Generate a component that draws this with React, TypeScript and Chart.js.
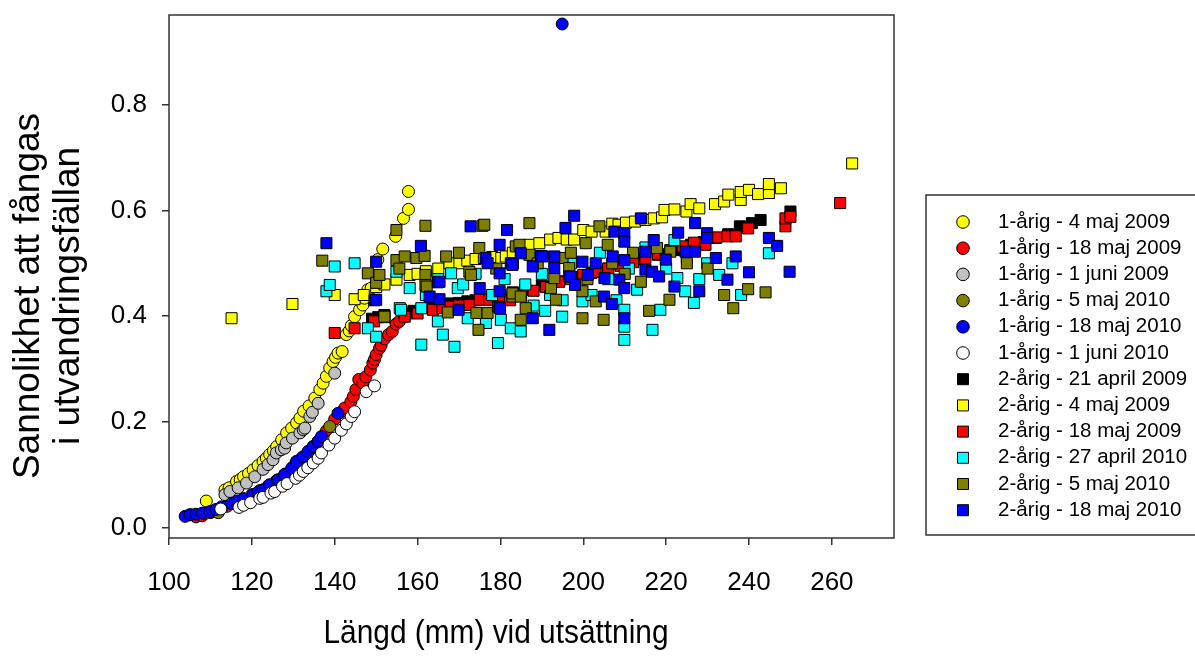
import React, { useEffect, useRef } from "react";
import { Chart, registerables } from "chart.js";

Chart.register(...registerables);

type P = [number, number];

const FONT = '"Liberation Sans", Arial, sans-serif';

const xTicks = [100, 120, 140, 160, 180, 200, 220, 240, 260];
const yTicks = [0, 0.2, 0.4, 0.6, 0.8];

const xTitle = "Längd (mm) vid utsättning";
const yTitle = ["Sannolikhet att fångas", "i utvandringsfällan"];

const seriesNames = [
  "1-årig - 4 maj 2009",
  "1-årig - 18 maj 2009",
  "1-årig - 1 juni 2009",
  "1-årig - 5 maj 2010",
  "1-årig - 18 maj 2010",
  "1-årig - 1 juni 2010",
  "2-årig - 21 april 2009",
  "2-årig - 4 maj 2009",
  "2-årig - 18 maj 2009",
  "2-årig - 27 april 2010",
  "2-årig - 5 maj 2010",
  "2-årig - 18 maj 2010",
];

const seriesColors = [
  "#ffff00", "#ff0000", "#c0c0c0", "#808000", "#0000ff", "#ffffff",
  "#000000", "#ffff00", "#ff0000", "#00ffff", "#808000", "#0000ff",
];

const seriesShapes = [
  "circle", "circle", "circle", "circle", "circle", "circle",
  "rect", "rect", "rect", "rect", "rect", "rect",
];

const c1_4maj2009: P[] = [
  [109, 0.05], [113.5, 0.071], [114.5, 0.075], [116.3, 0.087], [117.2, 0.091], [118, 0.096],
  [119.2, 0.102], [120.3, 0.109], [121.5, 0.117], [122.7, 0.125], [123.5, 0.131], [124.3, 0.138],
  [125.2, 0.145], [126, 0.153], [127.2, 0.166], [128.4, 0.179], [129.6, 0.188], [130.8, 0.198],
  [131.6, 0.207], [132.5, 0.22], [133.8, 0.23], [135.2, 0.245], [136.4, 0.261], [137.2, 0.273],
  [138, 0.286], [138.8, 0.302], [139.6, 0.314], [140.2, 0.322], [140.8, 0.33], [141.8, 0.333],
  [142.8, 0.365], [143.5, 0.372], [144, 0.382], [144.8, 0.399], [146, 0.412], [146.8, 0.421],
  [147.2, 0.434], [148, 0.45], [148.8, 0.453], [150.4, 0.507], [151.6, 0.527], [154.7, 0.551],
  [156.6, 0.585], [157.8, 0.602], [157.8, 0.636],
];

const c1_18maj2009: P[] = [
  [106.5, 0.02], [108, 0.022], [110, 0.028], [112, 0.034], [114, 0.04], [116, 0.047], [118, 0.054],
  [120, 0.062], [122, 0.07], [124, 0.079], [126, 0.089], [128, 0.101], [130, 0.115], [132, 0.131],
  [134, 0.146], [136, 0.163], [138, 0.183], [140, 0.205], [141.5, 0.218], [142.4, 0.226],
  [143.9, 0.238], [144.5, 0.248], [145.1, 0.261], [145.8, 0.28], [146.8, 0.273], [147.5, 0.285],
  [148.6, 0.298], [149.2, 0.311], [149.6, 0.318], [150, 0.327], [150.8, 0.339], [151.2, 0.345],
  [152, 0.357], [153, 0.365], [153.9, 0.371], [154.8, 0.385], [155.6, 0.39], [156.9, 0.399], [158, 0.405],
];

const c1_1juni2009: P[] = [
  [113.5, 0.062], [114.7, 0.068], [116.7, 0.075], [118.7, 0.084], [120.7, 0.096], [122.7, 0.11],
  [123.9, 0.119], [125.1, 0.128], [125.9, 0.141], [127.1, 0.147], [127.9, 0.15], [128.3, 0.16],
  [129.8, 0.169], [131.6, 0.179], [132.4, 0.185], [132.8, 0.188], [134, 0.21], [134.6, 0.218],
  [136, 0.235], [140, 0.292],
];

const c1_5maj2010: P[] = [
  [105.1, 0.024], [108.7, 0.027], [111.9, 0.028], [115.1, 0.045], [118, 0.054], [122.7, 0.071],
  [126.3, 0.09], [130.8, 0.125], [134.8, 0.153], [138.8, 0.191],
];

const c1_18maj2010: P[] = [
  [103.9, 0.021], [105.1, 0.024], [106.5, 0.025], [108, 0.027], [109.9, 0.03], [111.3, 0.034],
  [112.7, 0.039], [115.1, 0.045], [116.5, 0.05], [118, 0.054], [120.3, 0.062], [121.5, 0.067],
  [122.7, 0.071], [124.3, 0.081], [126.3, 0.09], [127.9, 0.1], [129.6, 0.112], [130.8, 0.125],
  [132.4, 0.134], [133.6, 0.144], [134.8, 0.153], [136, 0.163], [136.8, 0.172], [140.8, 0.216],
  [194.9, 0.953],
];

const c1_1juni2010: P[] = [
  [112.5, 0.035], [116.9, 0.038], [118, 0.042], [119.7, 0.047], [121.9, 0.055], [122.7, 0.057],
  [124.6, 0.065], [125.5, 0.068], [127.4, 0.078], [128.5, 0.083], [130.6, 0.093], [131.5, 0.099],
  [132.4, 0.106], [133.5, 0.113], [134.8, 0.122], [136, 0.131], [136.8, 0.141], [138.6, 0.156],
  [140, 0.169], [141.6, 0.184], [142.8, 0.196], [144, 0.21], [144.8, 0.219], [147.6, 0.257], [149.6, 0.268],
];

const s2_21april2009: P[] = [
  [149, 0.395], [150.5, 0.398], [152, 0.402], [157, 0.405], [159, 0.41], [163, 0.415], [166, 0.42],
  [168, 0.424], [170, 0.425], [172, 0.428], [174, 0.43], [176, 0.432], [178, 0.437], [180, 0.44],
  [183, 0.445], [186, 0.45], [190, 0.458], [194, 0.466], [198, 0.474], [202, 0.482], [206, 0.49],
  [210, 0.498], [214, 0.507], [218, 0.516], [222, 0.525], [226, 0.535], [229, 0.54], [232, 0.548],
  [235, 0.555], [237.8, 0.57], [240.7, 0.576], [242.8, 0.582], [250, 0.598],
];

const s2_4maj2009: P[] = [
  [115.1, 0.396], [129.8, 0.423], [140, 0.44], [144.8, 0.432], [147, 0.44], [150, 0.455], [152, 0.46],
  [154.9, 0.469], [158.1, 0.478], [160, 0.48], [162, 0.485], [165, 0.49], [167.7, 0.5], [170.1, 0.5],
  [172, 0.505], [174, 0.508], [176, 0.51], [178, 0.512], [180.2, 0.51], [181.3, 0.513], [183, 0.52],
  [185, 0.525], [187, 0.535], [189.4, 0.538], [192, 0.545], [194, 0.548], [196, 0.545], [197.8, 0.545],
  [200, 0.563], [202, 0.56], [205.4, 0.56], [207, 0.575], [208.5, 0.573], [210.3, 0.577], [212.5, 0.579],
  [215, 0.582], [217, 0.585], [219, 0.587], [219.6, 0.601], [222, 0.602], [224.9, 0.598], [225.9, 0.612],
  [228, 0.604], [231.8, 0.612], [234, 0.617], [235, 0.63], [238, 0.62], [238, 0.635], [240, 0.639],
  [242.2, 0.631], [244.8, 0.633], [244.8, 0.65], [247.7, 0.642], [264.9, 0.689],
];

const s2_18maj2009: P[] = [
  [140, 0.368], [144.8, 0.377], [149.5, 0.39], [152, 0.398], [156.9, 0.399], [160, 0.405], [163.7, 0.412],
  [166, 0.415], [168, 0.418], [170, 0.42], [172.5, 0.421], [175, 0.431], [177.3, 0.431], [179.9, 0.43],
  [182.3, 0.43], [185, 0.44], [188, 0.448], [191, 0.455], [194.2, 0.465], [197, 0.47], [200, 0.478],
  [203, 0.484], [206, 0.49], [209, 0.495], [212, 0.502], [215, 0.51], [218, 0.518], [221, 0.525],
  [224, 0.532], [226.7, 0.539], [229.5, 0.535], [232.1, 0.549], [234.8, 0.551], [236.8, 0.551],
  [239.8, 0.566], [248.8, 0.57], [248.8, 0.585], [250, 0.588], [262, 0.614],
];

const s2_27april2010: P[] = [
  [138, 0.447], [138.8, 0.459], [140, 0.494], [144.8, 0.5], [148, 0.377], [150, 0.361], [154.9, 0.484],
  [155.7, 0.415], [156, 0.412], [158.1, 0.453], [160.9, 0.346], [160.9, 0.415], [162, 0.44],
  [164.9, 0.39], [165, 0.47], [166.1, 0.365], [168.1, 0.481], [168.9, 0.342], [169.7, 0.453],
  [171, 0.46], [172.1, 0.396], [174, 0.48], [176.5, 0.387], [178, 0.44], [179.4, 0.349], [180.1, 0.393],
  [181, 0.47], [182.5, 0.377], [183, 0.5], [184.9, 0.371], [186, 0.46], [188, 0.42], [190, 0.48],
  [190.8, 0.41], [192, 0.44], [194.9, 0.399], [195, 0.43], [197, 0.5], [199, 0.46], [199.8, 0.428],
  [202, 0.44], [204, 0.52], [206, 0.47], [208, 0.43], [209.9, 0.355], [209.9, 0.38], [209.9, 0.412],
  [211, 0.49], [213, 0.45], [215, 0.53], [216.7, 0.374], [218.6, 0.412], [220, 0.49], [222, 0.544],
  [222.7, 0.472], [224.6, 0.447], [225, 0.51], [226.7, 0.425], [228, 0.47], [229.9, 0.5], [232.8, 0.478],
  [236, 0.5], [238.1, 0.44], [244.8, 0.519],
];

const s2_5maj2010: P[] = [
  [137, 0.505], [148, 0.481], [150, 0.463], [150.8, 0.478], [152, 0.399], [154.9, 0.563], [154.9, 0.506],
  [155.6, 0.49], [156.9, 0.513], [159.7, 0.51], [161.7, 0.514], [161.9, 0.571], [161.9, 0.478],
  [161.9, 0.459], [162.2, 0.456], [166.9, 0.513], [167.3, 0.407], [170, 0.52], [172.5, 0.484],
  [172.9, 0.478], [174.2, 0.406], [174.7, 0.374], [174.9, 0.529], [175.7, 0.571], [176.1, 0.573],
  [176.9, 0.406], [179, 0.49], [182.9, 0.437], [182.9, 0.443], [183.7, 0.532], [184.6, 0.535],
  [184.9, 0.437], [184.9, 0.393], [186.1, 0.415], [187, 0.576], [187, 0.516], [189, 0.5], [192.2, 0.453],
  [193, 0.472], [193.4, 0.431], [195, 0.51], [196.6, 0.491], [197, 0.52], [199.8, 0.447], [199.8, 0.396],
  [200.6, 0.538], [201, 0.47], [203, 0.428], [203.9, 0.57], [204.9, 0.393], [205.9, 0.535], [207, 0.5],
  [210, 0.48], [212, 0.52], [213.9, 0.465], [215.9, 0.41], [217.8, 0.529], [220.8, 0.431], [221, 0.522],
  [225, 0.5], [230, 0.49], [234, 0.44], [236.2, 0.415], [239.8, 0.451], [244, 0.445],
];

const s2_18maj2010: P[] = [
  [138, 0.538], [149.6, 0.43], [150, 0.503], [150, 0.431], [160.8, 0.533], [162.9, 0.437], [164.9, 0.464],
  [165.3, 0.432], [165.3, 0.465], [169.9, 0.412], [172.8, 0.57], [175, 0.453], [176.4, 0.51], [176.9, 0.5],
  [179.4, 0.418], [179.8, 0.535], [179.8, 0.481], [179.8, 0.447], [179.9, 0.415], [181.6, 0.563],
  [182.5, 0.5], [182.9, 0.497], [184.9, 0.519], [187.8, 0.396], [187.8, 0.494], [189.8, 0.514],
  [190.2, 0.513], [191.8, 0.374], [193, 0.513], [193, 0.491], [195.7, 0.567], [196.6, 0.475],
  [196.9, 0.475], [197.8, 0.59], [198, 0.459], [199.8, 0.503], [201.1, 0.478], [203, 0.5], [205, 0.437],
  [205.1, 0.472], [206.9, 0.423], [207.1, 0.513], [207.5, 0.56], [208.7, 0.469], [209.9, 0.557],
  [209.9, 0.541], [209.9, 0.506], [209.9, 0.453], [209.9, 0.396], [213.9, 0.585], [215, 0.522],
  [215, 0.488], [216.6, 0.484], [217, 0.544], [218.3, 0.475], [219.9, 0.507], [222, 0.456],
  [222.9, 0.558], [224.7, 0.522], [227, 0.576], [227, 0.522], [228, 0.447], [229.9, 0.557],
  [229.9, 0.548], [232, 0.51], [234.8, 0.469], [236.8, 0.513], [240, 0.483], [244.8, 0.548],
  [246.8, 0.533], [249.8, 0.484],
];

const seriesData: P[][] = [
  c1_4maj2009, c1_18maj2009, c1_1juni2009, c1_5maj2010, c1_18maj2010, c1_1juni2010,
  s2_21april2009, s2_4maj2009, s2_18maj2009, s2_27april2010, s2_5maj2010, s2_18maj2010,
];

const framePlugin = {
  id: "framePlugin",
  afterDraw(chart: any) {
    const { ctx, chartArea } = chart;
    ctx.save();
    ctx.strokeStyle = "#333";
    ctx.lineWidth = 1.5;
    ctx.strokeRect(chartArea.left, chartArea.top, chartArea.right - chartArea.left, chartArea.bottom - chartArea.top);
    ctx.restore();
  },
};

const titlesPlugin = {
  id: "titlesPlugin",
  afterDraw(chart: any) {
    const { ctx } = chart;
    ctx.save();
    ctx.fillStyle = "#000";
    ctx.translate(0, 296);
    ctx.rotate(-Math.PI / 2);
    ctx.font = `37px ${FONT}`;
    ctx.textAlign = "center";
    ctx.textBaseline = "middle";
    ctx.fillText(yTitle[0], 0, 29);
    ctx.fillText(yTitle[1], 0, 69);
    ctx.restore();
    ctx.save();
    ctx.fillStyle = "#000";
    ctx.font = `34px ${FONT}`;
    ctx.textAlign = "center";
    ctx.textBaseline = "alphabetic";
    ctx.fillText(xTitle, 496, 643, 345);
    ctx.restore();
  },
};

const legendPlugin = {
  id: "boxLegend",
  afterDraw(chart: any) {
    const { ctx } = chart;
    ctx.save();
    ctx.strokeStyle = "#333";
    ctx.lineWidth = 1.5;
    ctx.strokeRect(926, 195, 300, 340);
    ctx.font = `20.5px ${FONT}`;
    ctx.textAlign = "left";
    ctx.textBaseline = "middle";
    seriesNames.forEach((name, i) => {
      const y = 222 + i * 26.2;
      ctx.fillStyle = seriesColors[i];
      ctx.strokeStyle = "#000";
      ctx.lineWidth = 1;
      ctx.beginPath();
      if (seriesShapes[i] === "circle") {
        ctx.arc(963, y, 6.3, 0, Math.PI * 2);
      } else {
        ctx.rect(963 - 5.5, y - 5.5, 11, 11);
      }
      ctx.fill();
      ctx.stroke();
      ctx.fillStyle = "#000";
      ctx.fillText(name, 998, y);
    });
    ctx.restore();
  },
};

export default function App() {
  const ref = useRef<HTMLCanvasElement | null>(null);
  useEffect(() => {
    if (!ref.current) return;
    const datasets = seriesData.map((d, i) => ({
      label: seriesNames[i],
      data: d.map(([x, y]) => ({ x, y })),
      pointStyle: seriesShapes[i],
      pointRadius: seriesShapes[i] === "circle" ? 6 : 7.8,
      pointHoverRadius: seriesShapes[i] === "circle" ? 6 : 7.8,
      backgroundColor: seriesColors[i],
      borderColor: "#000",
      pointBorderWidth: 1,
      borderWidth: 1,
      order: seriesNames.length - i,
      showLine: false,
    }));
    const chart = new Chart(ref.current, {
      type: "scatter",
      data: { datasets },
      options: {
        responsive: false,
        animation: false,
        devicePixelRatio: 1,
        layout: { padding: { left: 0, top: 15, right: 301, bottom: 0 } },
        plugins: { legend: { display: false }, tooltip: { enabled: false } },
        scales: {
          x: {
            type: "linear",
            min: 100,
            max: 275,
            afterFit: (s: any) => { s.height = 119; s.paddingLeft = 0; s.paddingRight = 0; },
            afterBuildTicks: (s: any) => { s.ticks = xTicks.map((v) => ({ value: v })); },
            grid: { drawOnChartArea: false, drawTicks: true, tickLength: 7, tickColor: "#333", lineWidth: 1.5 },
            border: { display: false },
            ticks: { color: "#000", font: { family: FONT, size: 26 }, padding: 22, maxRotation: 0, callback: (v: any) => String(v) },
          },
          y: {
            type: "linear",
            min: -0.02,
            max: 0.97,
            afterFit: (s: any) => { s.width = 169; s.paddingTop = 0; s.paddingBottom = 0; },
            afterBuildTicks: (s: any) => { s.ticks = yTicks.map((v) => ({ value: v })); },
            grid: { drawOnChartArea: false, drawTicks: true, tickLength: 7, tickColor: "#333", lineWidth: 1.5 },
            border: { display: false },
            ticks: { color: "#000", font: { family: FONT, size: 26 }, padding: 15, callback: (v: any) => Number(v).toFixed(1) },
          },
        },
      },
      plugins: [framePlugin, titlesPlugin, legendPlugin],
    } as any);
    return () => chart.destroy();
  }, []);
  return (
    <canvas
      ref={ref}
      width={1195}
      height={657}
      style={{ position: "absolute", left: 0, top: 0, display: "block" }}
    />
  );
}
